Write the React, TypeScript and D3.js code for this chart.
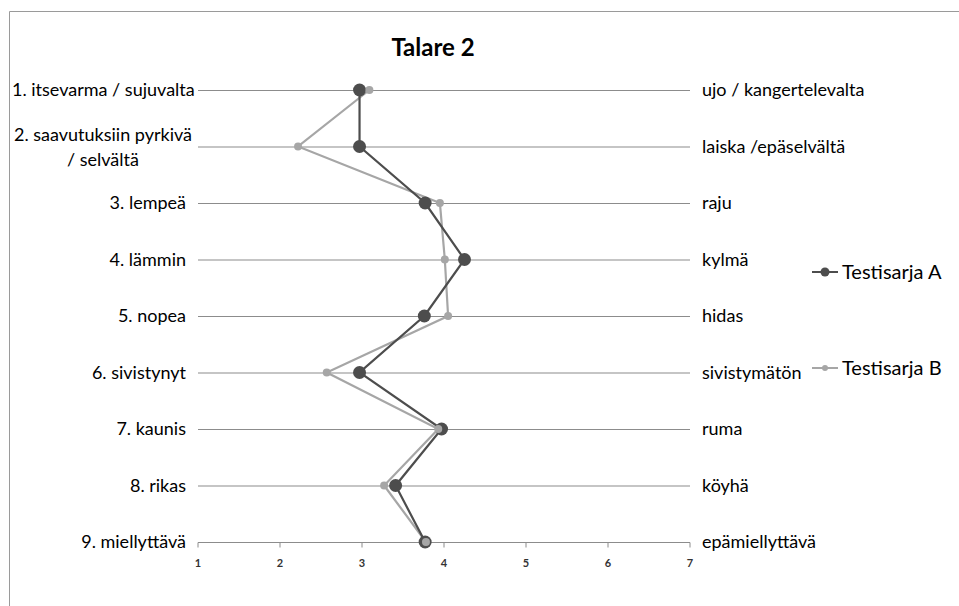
import * as d3 from 'd3';
import { useEffect, useRef } from 'react';

// Left-hand (positive) adjectives, one per row
const leftLabels: string[][] = [
  ['1. itsevarma / sujuvalta'],
  ['2. saavutuksiin pyrkivä', '/ selvältä'],
  ['3. lempeä'],
  ['4. lämmin'],
  ['5. nopea'],
  ['6. sivistynyt'],
  ['7. kaunis'],
  ['8. rikas'],
  ['9. miellyttävä'],
];

// Right-hand (opposite) adjectives
const rightLabels = [
  'ujo / kangertelevalta',
  'laiska /epäselvältä',
  'raju',
  'kylmä',
  'hidas',
  'sivistymätön',
  'ruma',
  'köyhä',
  'epämiellyttävä',
];

const seriesA = [2.97, 2.97, 3.77, 4.25, 3.76, 2.97, 3.97, 3.41, 3.77];
const seriesB = [3.09, 2.22, 3.95, 4.01, 4.05, 2.57, 3.93, 3.27, 3.78];
const tickValues = [1, 2, 3, 4, 5, 6, 7];

const FONT = 'Lato, "Open Sans", sans-serif';

const App = () => {
  const svgRef = useRef<SVGSVGElement | null>(null);

  useEffect(() => {
    if (!svgRef.current) return;
    const svg = d3.select(svgRef.current);
    svg.selectAll('*').remove();

    const width = 959;
    const height = 606;

    const x = d3.scaleLinear().domain([1, 7]).range([198, 690]);
    const y = d3.scalePoint<number>()
      .domain(d3.range(leftLabels.length))
      .range([90, 542]);

    // chart frame (only top/left edges visible in the crop)
    svg.append('path')
      .attr('d', `M9.5,${height} V11.5 H${width}`)
      .attr('fill', 'none')
      .attr('stroke', '#9a9a9a')
      .attr('stroke-width', 1);

    // title
    svg.append('text')
      .attr('x', 433)
      .attr('y', 56)
      .attr('text-anchor', 'middle')
      .style('font-family', FONT)
      .style('font-size', '24px')
      .style('font-weight', 'bold')
      .style('fill', '#000')
      .text('Talare 2');

    // horizontal row lines
    svg.append('g')
      .selectAll('line')
      .data(d3.range(leftLabels.length))
      .join('line')
      .attr('x1', x(1))
      .attr('x2', x(7))
      .attr('y1', d => (y(d) ?? 0) + 0.5)
      .attr('y2', d => (y(d) ?? 0) + 0.5)
      .attr('stroke', '#8c8c8c')
      .attr('stroke-width', 1.2);

    // x axis ticks
    const axisY = (y(leftLabels.length - 1) ?? 0) + 0.5;
    svg.append('g')
      .selectAll('line')
      .data(tickValues)
      .join('line')
      .attr('x1', d => x(d))
      .attr('x2', d => x(d))
      .attr('y1', axisY)
      .attr('y2', axisY + 5)
      .attr('stroke', '#8c8c8c');

    svg.append('g')
      .selectAll('text')
      .data(tickValues)
      .join('text')
      .attr('x', d => x(d))
      .attr('y', axisY + 24)
      .attr('text-anchor', 'middle')
      .style('font-family', FONT)
      .style('font-size', '11px')
      .style('font-weight', 'bold')
      .style('fill', '#333')
      .text(d => d);

    // left labels, right-aligned; long ones are pushed right like Excel does
    const leftG = svg.append('g');
    leftLabels.forEach((lines, i) => {
      const cy = y(i) ?? 0;
      if (lines.length === 1) {
        const t = leftG.append('text')
          .attr('y', cy)
          .attr('dy', '0.35em')
          .attr('text-anchor', 'end')
          .style('font-family', FONT)
          .style('font-size', '18px')
          .style('fill', '#000')
          .text(lines[0]);
        const w = (t.node() as SVGTextElement).getComputedTextLength();
        t.attr('x', Math.max(186, 12 + w));
      } else {
        const t = leftG.append('text')
          .attr('text-anchor', 'middle')
          .style('font-family', FONT)
          .style('font-size', '18px')
          .style('fill', '#000');
        t.append('tspan').attr('y', cy - 12).attr('dy', '0.35em').text(lines[0]);
        t.append('tspan').attr('y', cy + 13).attr('dy', '0.35em').text(lines[1]);
        const w = (t.select('tspan').node() as SVGTextElement).getComputedTextLength();
        t.selectAll('tspan').attr('x', 192 - w / 2);
      }
    });

    // right labels
    svg.append('g')
      .selectAll('text')
      .data(rightLabels)
      .join('text')
      .attr('x', 702)
      .attr('y', (_, i) => y(i) ?? 0)
      .attr('dy', '0.35em')
      .style('font-family', FONT)
      .style('font-size', '18px')
      .style('fill', '#000')
      .text(d => d);

    const line = d3.line<number>()
      .x(d => x(d))
      .y((_, i) => y(i) ?? 0);

    const series = [
      { name: 'Testisarja B', values: seriesB, color: '#a6a6a6', r: 4, legendY: 368 },
      { name: 'Testisarja A', values: seriesA, color: '#4d4d4d', r: 6.5, legendY: 272 },
    ];

    // draw B lines first, then A lines, then markers
    series.forEach(s => {
      svg.append('path')
        .datum(s.values)
        .attr('d', line)
        .attr('fill', 'none')
        .attr('stroke', s.color)
        .attr('stroke-width', 2.2);
    });
    [series[1], series[0]].forEach(s => {
      svg.append('g')
        .selectAll('circle')
        .data(s.values)
        .join('circle')
        .attr('cx', d => x(d))
        .attr('cy', (_, i) => y(i) ?? 0)
        .attr('r', s.r)
        .attr('fill', s.color);
    });

    // legend
    series.forEach(s => {
      const g = svg.append('g').attr('transform', `translate(812,${s.legendY})`);
      g.append('line')
        .attr('x1', 0)
        .attr('x2', 26)
        .attr('stroke', s.color)
        .attr('stroke-width', 2);
      g.append('circle')
        .attr('cx', 13)
        .attr('r', s.r === 4 ? 3 : 4.5)
        .attr('fill', s.color);
      g.append('text')
        .attr('x', 30)
        .attr('dy', '0.35em')
        .style('font-family', FONT)
        .style('font-size', '20px')
        .style('fill', '#000')
        .text(s.name);
    });
  }, []);

  return (
    <svg
      ref={svgRef}
      width={959}
      height={606}
      style={{ position: 'absolute', left: 0, top: 0, background: '#fff' }}
    />
  );
};

export default App;
